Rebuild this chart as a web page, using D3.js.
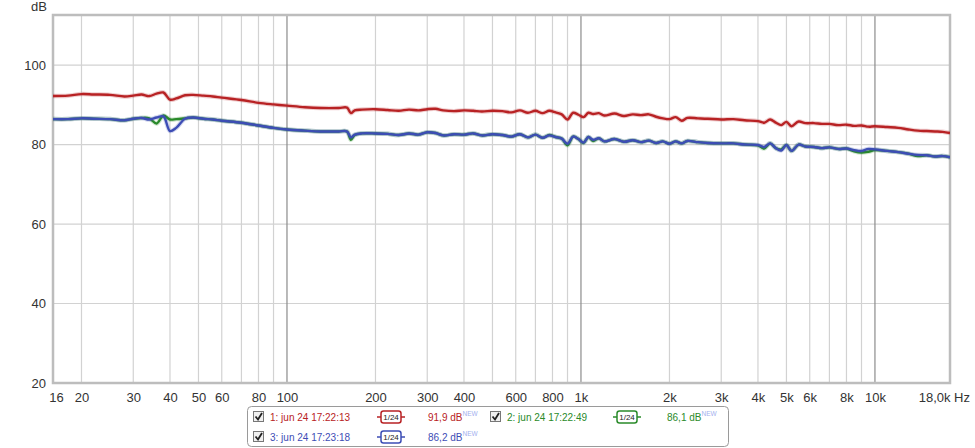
<!DOCTYPE html>
<html>
<head>
<meta charset="utf-8">
<script src="https://cdn.jsdelivr.net/npm/d3@7"></script>
<style>
  html, body { margin: 0; padding: 0; background: #fff; }
  svg { display: block; font-family: "Liberation Sans", Arial, sans-serif; }
</style>
</head>
<body>
<svg id="chart" width="975" height="448"></svg>
<script>
// ---------------- data ----------------
const freqs = [16, 18, 20, 22, 25, 28, 30, 32, 34, 36, 38, 40, 42, 45, 48, 52, 56, 60, 70, 80, 90, 100,
  115, 130, 150, 160, 165, 170, 180, 200, 220, 240, 260, 280, 300, 320, 340, 370, 400, 430, 460, 500,
  540, 580, 620, 660, 700, 740, 780, 820, 860, 900, 940, 980, 1020, 1060, 1100, 1150, 1200, 1300, 1400,
  1500, 1600, 1700, 1800, 1900, 2000, 2100, 2200, 2300, 2500, 2700, 3000, 3300, 3600, 4000, 4200, 4400,
  4600, 4800, 5000, 5200, 5500, 5800, 6200, 6600, 7000, 7500, 8000, 8500, 9000, 9500, 10000, 11000,
  12000, 13000, 14000, 15000, 16000, 17000, 18000];

const series1 = [92.2, 92.3, 92.7, 92.6, 92.5, 92.1, 92.3, 92.6, 92.2, 92.8, 93.1, 91.3, 91.6, 92.4, 92.5, 92.3, 92.1, 91.8, 91.2, 90.5, 90.1, 89.8,
  89.4, 89.2, 89.2, 89.3, 87.9, 88.6, 88.8, 88.9, 88.7, 88.5, 88.8, 88.6, 88.9, 89.0, 88.6, 88.4, 88.6, 88.5, 88.3, 88.5,
  88.4, 88.1, 88.6, 88.0, 88.5, 87.9, 88.5, 88.1, 87.6, 86.3, 88.0, 87.5, 86.9, 88.0, 87.7, 87.9, 87.3, 87.8, 87.2,
  87.6, 87.4, 87.6, 87.0, 86.6, 86.4, 86.9, 86.0, 86.7, 86.6, 86.5, 86.3, 86.4, 86.1, 85.9, 85.5, 86.3,
  85.5, 84.9, 85.7, 84.6, 85.8, 85.4, 85.4, 85.2, 85.2, 84.9, 85.0, 84.7, 84.8, 84.5, 84.6, 84.4,
  84.2, 83.8, 83.5, 83.4, 83.3, 83.2, 82.9];

const series2 = [86.4, 86.4, 86.6, 86.5, 86.4, 86.1, 86.5, 86.7, 86.6, 85.3, 87.3, 86.3, 86.4, 86.6, 86.8, 86.5, 86.3, 86.0, 85.5, 84.8, 84.2, 83.8,
  83.5, 83.3, 83.3, 83.3, 81.2, 82.4, 82.8, 82.8, 82.7, 82.4, 82.8, 82.5, 83.1, 82.9, 82.3, 82.6, 82.5, 82.8, 82.3, 82.6,
  82.4, 82.0, 82.6, 81.8, 82.5, 81.7, 82.4, 81.9, 81.5, 79.8, 82.0, 81.4, 80.4, 81.9, 80.9, 81.6, 80.8, 81.4, 80.7,
  81.1, 80.6, 81.0, 80.4, 80.8, 80.2, 80.8, 80.3, 80.9, 80.6, 80.4, 80.3, 80.3, 80.0, 79.8, 79.0, 80.3,
  79.1, 78.8, 79.9, 78.4, 80.0, 79.5, 79.4, 79.1, 79.3, 78.9, 79.0, 78.3, 78.0, 78.2, 78.6, 78.4,
  78.1, 77.7, 77.1, 77.3, 77.0, 77.1, 76.8];

const series3 = [86.4, 86.4, 86.6, 86.5, 86.4, 86.1, 86.5, 86.7, 86.3, 86.8, 87.1, 83.4, 84.2, 86.5, 86.8, 86.5, 86.3, 86.0, 85.5, 84.8, 84.2, 83.8,
  83.5, 83.3, 83.3, 83.3, 81.8, 82.5, 82.8, 82.8, 82.7, 82.4, 82.8, 82.5, 83.1, 82.9, 82.3, 82.6, 82.5, 82.8, 82.3, 82.6,
  82.4, 82.0, 82.6, 81.8, 82.5, 81.7, 82.3, 81.9, 81.5, 80.2, 82.0, 81.4, 80.5, 81.9, 81.2, 81.6, 80.8, 81.4, 80.7,
  81.1, 80.6, 81.0, 80.4, 80.8, 80.2, 80.8, 80.3, 80.9, 80.6, 80.4, 80.3, 80.3, 80.0, 79.9, 79.4, 80.3,
  79.1, 78.5, 79.9, 78.4, 80.0, 79.5, 79.4, 79.1, 79.3, 78.9, 79.0, 78.6, 78.4, 78.9, 78.8, 78.4,
  78.1, 77.7, 77.4, 77.3, 77.0, 77.1, 76.8];

const seriesNames = ["1: jun 24 17:22:13", "2: jun 24 17:22:49", "3: jun 24 17:23:18"];
const seriesLevels = ["91,9 dB", "86,1 dB", "86,2 dB"];
const seriesColors = ["#b82224", "#2a8a2a", "#3d4db5"];

const xTickValues = [16, 20, 30, 40, 50, 60, 80, 100, 200, 300, 400, 600, 800, 1000, 2000, 3000, 4000, 5000, 6000, 8000, 10000];
const xTickLabels = ["16", "20", "30", "40", "50", "60", "80", "100", "200", "300", "400", "600", "800", "1k", "2k", "3k", "4k", "5k", "6k", "8k", "10k"];
const yTickValues = [20, 40, 60, 80, 100];
const minorGrid = [20, 30, 40, 50, 60, 70, 80, 90, 200, 300, 400, 500, 600, 700, 800, 900, 2000, 3000, 4000, 5000, 6000, 7000, 8000, 9000];
const majorGrid = [100, 1000, 10000];

// ---------------- chart ----------------
const svg = d3.select("#chart");
const L = 53, R = 950, T = 15, B = 383;
const x = d3.scaleLog().domain([16, 18000]).range([L, R]);
const y = d3.scaleLinear().domain([20, 112.6]).range([B, T]);

// grid
const g = svg.append("g");
g.selectAll("line.hg").data([40, 60, 80, 100]).join("line")
  .attr("x1", L).attr("x2", R).attr("y1", d => y(d)).attr("y2", d => y(d))
  .attr("stroke", "#d2d2d2").attr("stroke-width", 1.2);
g.selectAll("line.vg").data(minorGrid).join("line")
  .attr("x1", d => x(d)).attr("x2", d => x(d)).attr("y1", T).attr("y2", B)
  .attr("stroke", "#d2d2d2").attr("stroke-width", 1.2);
g.selectAll("line.vm").data(majorGrid).join("line")
  .attr("x1", d => x(d)).attr("x2", d => x(d)).attr("y1", T).attr("y2", B)
  .attr("stroke", "#8c8c8c").attr("stroke-width", 1.2);

// frame
svg.append("rect").attr("x", L).attr("y", T).attr("width", R - L).attr("height", B - T)
  .attr("fill", "none").attr("stroke", "#bdbdbd").attr("stroke-width", 2.5);

// axes
const xAxis = d3.axisBottom(x).tickValues(xTickValues)
  .tickFormat((d, i) => xTickLabels[i]).tickSize(0).tickPadding(0);
const xa = svg.append("g").attr("transform", `translate(0,${B + 19})`).call(xAxis);
xa.select(".domain").remove();
xa.selectAll("text").attr("font-size", 13).attr("fill", "#333").attr("dy", 0)
  .attr("font-family", "Liberation Sans, Arial, sans-serif");
xa.selectAll(".tick").filter(d => d === 16).select("text").attr("dx", 3);
svg.append("text").attr("x", 970).attr("y", B + 19).attr("text-anchor", "end")
  .attr("font-size", 13).attr("fill", "#333").text("18,0k Hz");

const yAxis = d3.axisLeft(y).tickValues(yTickValues).tickSize(0).tickPadding(0);
const ya = svg.append("g").attr("transform", `translate(${L - 7},0)`).call(yAxis);
ya.select(".domain").remove();
ya.selectAll("text").attr("font-size", 13).attr("fill", "#333")
  .attr("font-family", "Liberation Sans, Arial, sans-serif");
svg.append("text").attr("x", 47).attr("y", 11).attr("text-anchor", "end")
  .attr("font-size", 13).attr("fill", "#333").text("dB");

// curves
const line = d3.line().x((d, i) => x(freqs[i])).y(d => y(d)).curve(d3.curveCatmullRom.alpha(0.5));
svg.append("clipPath").attr("id", "clip").append("rect")
  .attr("x", L).attr("y", T).attr("width", R - L).attr("height", B - T);
const curves = svg.append("g").attr("clip-path", "url(#clip)");
[[series1, 0], [series2, 1], [series3, 2]].forEach(([s, k]) => {
  curves.append("path").datum(s).attr("d", line).attr("fill", "none")
    .attr("stroke", seriesColors[k]).attr("stroke-opacity", 0.22).attr("stroke-width", 4.5)
    .attr("stroke-linejoin", "round");
  curves.append("path").datum(s).attr("d", line).attr("fill", "none")
    .attr("stroke", seriesColors[k]).attr("stroke-width", 2.4)
    .attr("stroke-linejoin", "round");
});

// legend
const lg = svg.append("g");
lg.append("rect").attr("x", 247.5).attr("y", 406.5).attr("width", 481).attr("height", 40)
  .attr("rx", 4).attr("fill", "#fff").attr("stroke", "#9a9a9a");

const legendItems = [
  { k: 0, cx: 253, rowY: 417, iconX: 377, lvlX: 428 },
  { k: 1, cx: 490, rowY: 417, iconX: 613, lvlX: 667 },
  { k: 2, cx: 253, rowY: 437, iconX: 377, lvlX: 428 }
];
legendItems.forEach(it => {
  const c = seriesColors[it.k];
  const gi = lg.append("g");
  // checkbox
  gi.append("rect").attr("x", it.cx + 0.5).attr("y", it.rowY - 5.5).attr("width", 10).attr("height", 10)
    .attr("fill", "#f0f0f0").attr("stroke", "#777");
  gi.append("path").attr("d", `M${it.cx + 2.5},${it.rowY - 0.5} L${it.cx + 5},${it.rowY + 2.5} L${it.cx + 9},${it.rowY - 4}`)
    .attr("fill", "none").attr("stroke", "#222").attr("stroke-width", 1.8);
  gi.append("text").attr("x", it.cx + 17).attr("y", it.rowY + 3.5).attr("font-size", 10)
    .attr("fill", c).text(seriesNames[it.k]);
  // smoothing icon
  gi.append("line").attr("x1", it.iconX).attr("x2", it.iconX + 28).attr("y1", it.rowY).attr("y2", it.rowY)
    .attr("stroke", c).attr("stroke-width", 1.5);
  gi.append("rect").attr("x", it.iconX + 4).attr("y", it.rowY - 6).attr("width", 20).attr("height", 12)
    .attr("rx", 2.5).attr("fill", "#fff").attr("stroke", c).attr("stroke-width", 1.5);
  gi.append("text").attr("x", it.iconX + 14).attr("y", it.rowY + 3).attr("text-anchor", "middle")
    .attr("font-size", 8).attr("fill", "#222").text("1/24");
  // level
  const lt = gi.append("text").attr("x", it.lvlX).attr("y", it.rowY + 3.5).attr("font-size", 10).attr("fill", c);
  lt.append("tspan").text(seriesLevels[it.k]);
  lt.append("tspan").attr("dy", -5).attr("font-size", 6.5).attr("fill", "#a3b0ee").text("NEW");
});
</script>
</body>
</html>
